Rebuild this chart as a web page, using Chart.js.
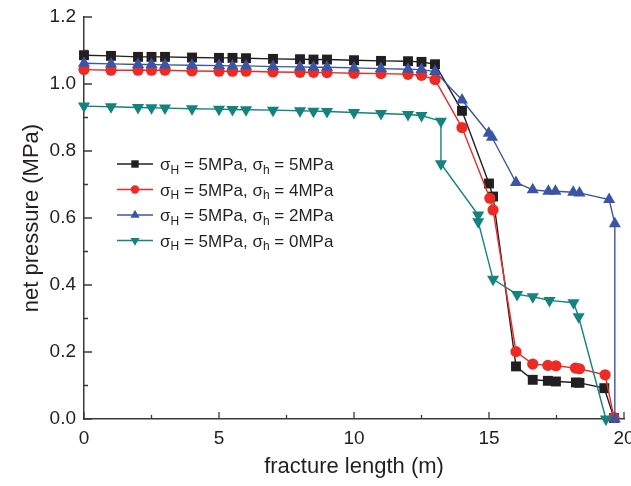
<!DOCTYPE html>
<html>
<head>
<meta charset="utf-8">
<script src="https://cdn.jsdelivr.net/npm/chart.js@4.4.1/dist/chart.umd.min.js"></script>
<style>
  html, body { margin: 0; padding: 0; background: #fff; }
  canvas { display: block; }
</style>
</head>
<body>
<canvas id="grafico" width="631" height="486"></canvas>
<script>
// valores
const xPlano = [0, 1, 2, 2.5, 3, 4, 5, 5.5, 6, 7, 8, 8.5, 9, 10, 11, 12, 12.5];

const xPreto = [...xPlano, 13, 14, 15, 15.15, 16, 16.62, 17.18, 17.48, 18.22, 18.35, 19.27, 19.63];
const yPreto = [1.086, 1.084, 1.081, 1.081, 1.081, 1.079, 1.078, 1.078, 1.077, 1.075, 1.074, 1.073, 1.073, 1.071, 1.069, 1.068, 1.066,
  1.059, 0.920, 0.703, 0.664, 0.157, 0.117, 0.114, 0.112, 0.109, 0.108, 0.092, 0.003];

const xVermelho = [...xPlano, 13, 14, 15.03, 15.15, 16, 16.62, 17.18, 17.48, 18.2, 18.35, 19.3, 19.63];
const yVermelho = [1.043, 1.041, 1.041, 1.041, 1.041, 1.039, 1.038, 1.038, 1.038, 1.036, 1.035, 1.035, 1.034, 1.032, 1.031, 1.029, 1.026,
  1.013, 0.870, 0.659, 0.624, 0.201, 0.164, 0.160, 0.159, 0.152, 0.150, 0.132, 0.004];

const xAzul = [...xPlano, 13, 14, 14.99, 15.11, 16, 16.62, 17.2, 17.46, 18.12, 18.35, 19.45, 19.66, 19.66];
const yAzul = [1.062, 1.060, 1.058, 1.058, 1.057, 1.056, 1.055, 1.054, 1.054, 1.052, 1.051, 1.050, 1.050, 1.048, 1.046, 1.044, 1.043,
  1.037, 0.952, 0.853, 0.841, 0.706, 0.684, 0.680, 0.680, 0.677, 0.675, 0.655, 0.583, 0.0];

const xVerde = [...xPlano, 13.22, 13.22, 14.6, 14.6, 15.15, 16.04, 16.62, 17.24, 18.13, 18.32, 19.33];
const yVerde = [0.934, 0.932, 0.930, 0.929, 0.928, 0.926, 0.925, 0.924, 0.923, 0.922, 0.920, 0.919, 0.918, 0.915, 0.912, 0.909, 0.906,
  0.889, 0.762, 0.609, 0.589, 0.417, 0.372, 0.365, 0.354, 0.347, 0.305, 0.0];

const sigmaH = ['5MPa', '5MPa', '5MPa', '5MPa'];
const sigmah = ['5MPa', '4MPa', '2MPa', '0MPa'];

const xMaior = [0, 5, 10, 15, 20];
const xMenor = [2.5, 7.5, 12.5, 17.5];
const yMaior = [0, 0.2, 0.4, 0.6, 0.8, 1.0, 1.2];
const yMenor = [0.1, 0.3, 0.5, 0.7, 0.9, 1.1];

const fonte = "'Liberation Sans', Arial, sans-serif";
const corTexto = '#231f20';
const corEixo = '#3a3a3a';

const pontos = (xs, ys) => xs.map((x, i) => ({ x, y: ys[i] }));

const series = [
  { cor: '#231f20', estilo: 'rect', raio: 7, rot: 0, xs: xPreto, ys: yPreto },
  { cor: '#ee2a24', estilo: 'circle', raio: 5.6, rot: 0, xs: xVermelho, ys: yVermelho },
  { cor: '#3a55a5', estilo: 'triangle', raio: 7, rot: 0, xs: xAzul, ys: yAzul },
  { cor: '#13837f', estilo: 'triangle', raio: 7, rot: 180, xs: xVerde, ys: yVerde }
];

function desenharMarcador(ctx, s, x, y, raio) {
  ctx.fillStyle = s.cor;
  if (Chart.helpers && Chart.helpers.drawPoint) {
    Chart.helpers.drawPoint(ctx, { pointStyle: s.estilo, rotation: s.rot, radius: raio, borderWidth: 0 }, x, y);
  } else {
    ctx.beginPath();
    ctx.arc(x, y, raio, 0, Math.PI * 2);
    ctx.fill();
  }
}

// marcas dos eixos para dentro (maiores e menores)
const marcas = {
  id: 'marcas',
  afterDraw(chart) {
    const { ctx, chartArea, scales: { x, y } } = chart;
    ctx.save();
    ctx.strokeStyle = corEixo;
    ctx.lineWidth = 1.3;
    ctx.beginPath();
    xMaior.forEach(v => { const p = x.getPixelForValue(v); ctx.moveTo(p, chartArea.bottom); ctx.lineTo(p, chartArea.bottom - 7); });
    xMenor.forEach(v => { const p = x.getPixelForValue(v); ctx.moveTo(p, chartArea.bottom); ctx.lineTo(p, chartArea.bottom - 4); });
    yMaior.forEach(v => { const p = y.getPixelForValue(v); ctx.moveTo(chartArea.left, p); ctx.lineTo(chartArea.left + 8, p); });
    yMenor.forEach(v => { const p = y.getPixelForValue(v); ctx.moveTo(chartArea.left, p); ctx.lineTo(chartArea.left + 4, p); });
    ctx.stroke();
    ctx.restore();
  }
};

// legenda com subscritos
const legenda = {
  id: 'legenda',
  afterDraw(chart) {
    const ctx = chart.ctx;
    ctx.save();
    series.forEach((s, i) => {
      const yy = 164 + i * 25.5;
      ctx.strokeStyle = s.cor;
      ctx.lineWidth = 1.4;
      ctx.beginPath();
      ctx.moveTo(117, yy);
      ctx.lineTo(153, yy);
      ctx.stroke();
      desenharMarcador(ctx, s, 135, yy, s.raio * 0.75);

      const partes = [
        ['σ', false], ['H', true], [' = ' + sigmaH[i] + ', σ', false], ['h', true], [' = ' + sigmah[i], false]
      ];
      let xx = 160;
      ctx.fillStyle = corTexto;
      ctx.textBaseline = 'alphabetic';
      partes.forEach(([t, sub]) => {
        ctx.font = (sub ? '12px ' : '17px ') + fonte;
        ctx.fillText(t, xx, yy + (sub ? 9.5 : 6));
        xx += ctx.measureText(t).width;
      });
    });
    ctx.restore();
  }
};

const grafico = document.getElementById('grafico');

new Chart(grafico, {
  type: 'line',
  data: {
    datasets: series.map((s, i) => ({
      label: 'σH = ' + sigmaH[i] + ', σh = ' + sigmah[i],
      data: pontos(s.xs, s.ys),
      borderColor: s.cor,
      backgroundColor: s.cor,
      borderWidth: 1.4,
      pointStyle: s.estilo,
      pointRotation: s.rot,
      pointRadius: s.raio,
      pointBorderWidth: 0,
      pointHoverRadius: s.raio,
      tension: 0,
      clip: false,
      order: 4 - i
    }))
  },
  options: {
    responsive: false,
    animation: false,
    devicePixelRatio: 1,
    layout: { padding: { top: 17, right: 4, bottom: 0, left: 0 } },
    plugins: { legend: { display: false }, tooltip: { enabled: false } },
    scales: {
      x: {
        type: 'linear',
        min: 0,
        max: 20,
        afterBuildTicks: s => { s.ticks = xMaior.map(v => ({ value: v })); },
        afterFit: s => { s.height = 67; s.paddingLeft = 0; s.paddingRight = 0; },
        grid: { display: true, drawOnChartArea: false, drawTicks: false },
        border: { display: true, color: corEixo, width: 1.5 },
        ticks: { color: corTexto, font: { family: fonte, size: 19 }, padding: 8, maxRotation: 0, callback: v => String(v) },
        title: { display: true, text: 'fracture length (m)', color: corTexto, font: { family: fonte, size: 22 }, padding: { top: 0, bottom: 6 } }
      },
      y: {
        min: 0,
        max: 1.2,
        afterBuildTicks: s => { s.ticks = yMaior.map(v => ({ value: v })); },
        afterFit: s => { s.width = 84; s.paddingTop = 0; s.paddingBottom = 0; },
        grid: { display: true, drawOnChartArea: false, drawTicks: false },
        border: { display: true, color: corEixo, width: 1.5 },
        ticks: { color: corTexto, font: { family: fonte, size: 19 }, padding: 8, callback: v => v.toFixed(1) },
        title: { display: true, text: 'net pressure (MPa)', color: corTexto, font: { family: fonte, size: 22 }, padding: { top: 19, bottom: 0 } }
      }
    }
  },
  plugins: [marcas, legenda]
});
</script>
</body>
</html>
